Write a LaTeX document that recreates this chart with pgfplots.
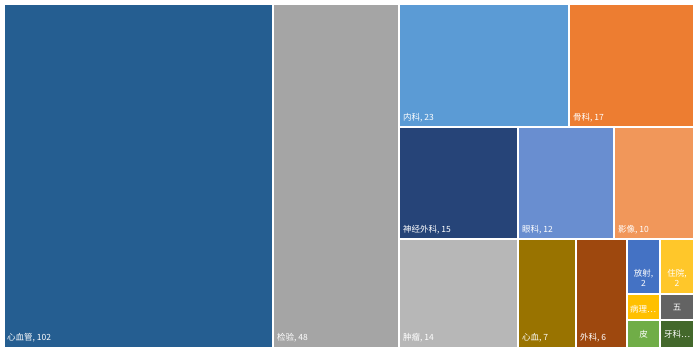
\documentclass[border=0pt]{standalone}
\usepackage{pgfplots}
\pgfplotsset{compat=1.18}
\usepackage{fontspec}
\newfontfamily\cjk{Noto Sans CJK SC}
\definecolor{c1}{HTML}{255E91}
\definecolor{c2}{HTML}{A5A5A5}
\definecolor{c3}{HTML}{5B9BD5}
\definecolor{c4}{HTML}{ED7D31}
\definecolor{c5}{HTML}{264478}
\definecolor{c6}{HTML}{698ED0}
\definecolor{c7}{HTML}{F1975A}
\definecolor{c8}{HTML}{B7B7B7}
\definecolor{c9}{HTML}{997300}
\definecolor{c10}{HTML}{9E480E}
\definecolor{c11}{HTML}{4472C4}
\definecolor{c12}{HTML}{FFC72A}
\definecolor{c13}{HTML}{FFC000}
\definecolor{c14}{HTML}{636363}
\definecolor{c15}{HTML}{70AD47}
\definecolor{c16}{HTML}{43682B}
% rect: x0 y0 x1 y1 (pixel space, y downward)
\newcommand\cell[5]{\addplot[fill=#5, draw=none] coordinates {(#1,#2) (#3,#2) (#3,#4) (#1,#4)} -- cycle;}
\newcommand\lab[3]{\node[anchor=south west, text=white, inner sep=0pt, font=\cjk\fontsize{8.5}{10}\selectfont] at (axis cs:#1,#2) {#3};}
\newcommand\clab[3]{\node[anchor=center, text=white, inner sep=0pt, align=center, font=\cjk\fontsize{8.5}{10.5}\selectfont] at (axis cs:#1,#2) {#3};}
\begin{document}
\begin{tikzpicture}
\begin{axis}[width=700pt, height=354pt, scale only axis,
  xmin=0, xmax=700, ymin=0, ymax=354, y dir=reverse,
  hide axis, clip=false]
\addplot[fill=white, draw=none] coordinates {(0,0) (700,0) (700,354) (0,354)} -- cycle;
\cell{5}{5}{272}{347}{c1}
\cell{274}{5}{398}{347}{c2}
\cell{400}{5}{568}{126}{c3}
\cell{570}{5}{693}{126}{c4}
\cell{400}{128}{517}{238}{c5}
\cell{519}{128}{613}{238}{c6}
\cell{615}{128}{693}{238}{c7}
\cell{400}{240}{517}{347}{c8}
\cell{519}{240}{575}{347}{c9}
\cell{577}{240}{626}{347}{c10}
\cell{628}{240}{659}{293}{c11}
\cell{661}{240}{693}{293}{c12}
\cell{628}{295}{659}{319}{c13}
\cell{661}{295}{693}{319}{c14}
\cell{628}{321}{659}{347}{c15}
\cell{661}{321}{693}{347}{c16}
\lab{7}{342}{心血管, 102}
\lab{277}{342}{检验, 48}
\lab{403}{122}{内科, 23}
\lab{573}{122}{骨科, 17}
\lab{403}{234}{神经外科, 15}
\lab{522}{234}{眼科, 12}
\lab{618}{234}{影像, 10}
\lab{403}{342}{肿瘤, 14}
\lab{522}{342}{心血, 7}
\lab{580}{342}{外科, 6}
\clab{643.5}{278}{放射,\\2}
\clab{677}{278}{住院,\\2}
\lab{630}{313}{病理…}
\clab{677}{307}{五}
\clab{643.5}{334}{皮}
\clab{677}{334}{牙科…}
\end{axis}
\end{tikzpicture}
\end{document}
